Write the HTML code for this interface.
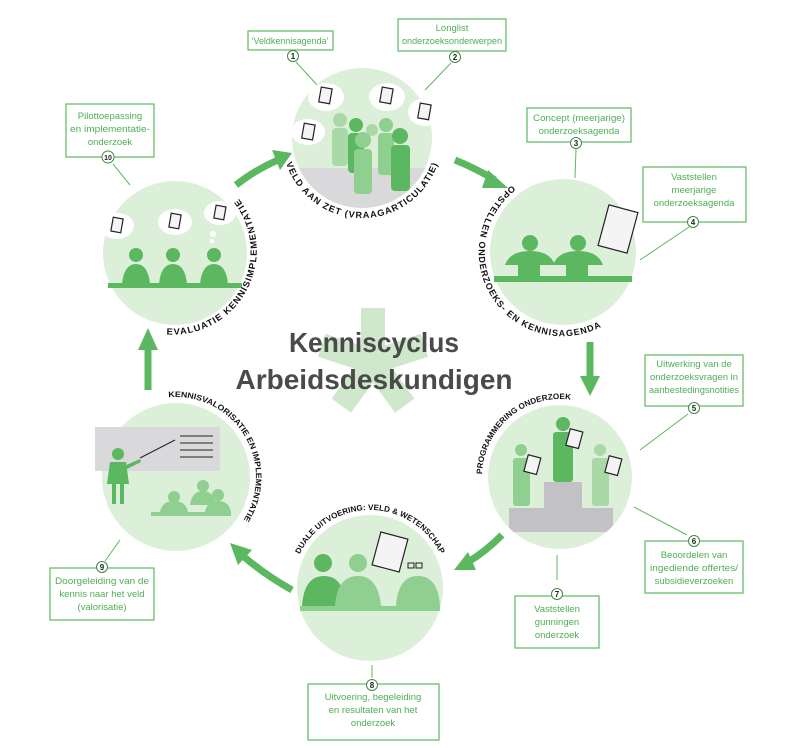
<!DOCTYPE html>
<html><head><meta charset="utf-8"><style>
html,body{margin:0;padding:0;background:#fff;}
svg{display:block;}
.bx{fill:#fff;stroke:#5cb860;stroke-width:1.2;}
.bt{font-family:"Liberation Sans",sans-serif;font-size:9.5px;fill:#4fae55;text-anchor:middle;}
.nc{fill:#fff;stroke:#3c8c40;stroke-width:1;}
.nt{font-family:"Liberation Sans",sans-serif;font-size:8px;font-weight:bold;fill:#222;text-anchor:middle;}
.ln{stroke:#5cb860;stroke-width:1;fill:none;}
.arc{font-family:"Liberation Sans",sans-serif;font-size:9px;font-weight:bold;fill:#111;letter-spacing:1px;}
.cir{fill:#dcefd9;}
.ar{stroke:#5cb860;stroke-width:7;fill:none;}
.ah{fill:#5cb860;}
.g1{fill:#5cb860;} .g2{fill:#8fcf8f;} .g3{fill:#a9d9a7;}
.doc{fill:#f4f4f4;stroke:#222;stroke-width:1.2;}
.bub{fill:#fff;}
</style></head><body>
<svg width="801" height="748" viewBox="0 0 801 748" xmlns="http://www.w3.org/2000/svg">
<defs>
<path id="p1" d="M283.2 151.9 A80 80 0 0 0 440.8 151.9"/>
<path id="p2" d="M160.8 333.8 A84 84 0 0 0 234.4 193.6"/>
<path id="p3" d="M521 179.3 A84 84 0 1 0 611.2 320.8"/>
<path id="p4" d="M482 477 A78 78 0 0 1 573.5 400.2"/>
<path id="p5" d="M298.2 557.5 A78 78 0 0 1 441.8 557.5"/>
<path id="p6" d="M164.9 397.8 A80 80 0 0 1 241.5 522.9"/>
</defs>

<g fill="#cfe8cc" transform="translate(373,362)">
<rect x="-12" y="-54" width="24" height="54"/>
<rect x="-12" y="-54" width="24" height="54" transform="rotate(72)"/>
<rect x="-12" y="-54" width="24" height="54" transform="rotate(144)"/>
<rect x="-12" y="-54" width="24" height="54" transform="rotate(216)"/>
<rect x="-12" y="-54" width="24" height="54" transform="rotate(288)"/>
</g>
<text x="374" y="352" font-family="Liberation Sans,sans-serif" font-weight="bold" font-size="28" fill="#4a4a4a" text-anchor="middle" textLength="170" lengthAdjust="spacingAndGlyphs">Kenniscyclus</text>
<text x="374" y="389" font-family="Liberation Sans,sans-serif" font-weight="bold" font-size="28" fill="#4a4a4a" text-anchor="middle" textLength="277" lengthAdjust="spacingAndGlyphs">Arbeidsdeskundigen</text>

<line class="ln" x1="296" y1="62" x2="318" y2="86"/>
<line class="ln" x1="451" y1="63" x2="425" y2="90"/>
<line class="ln" x1="576" y1="149" x2="575" y2="178"/>
<line class="ln" x1="689" y1="227" x2="640" y2="260"/>
<line class="ln" x1="688" y1="414" x2="640" y2="450"/>
<line class="ln" x1="687" y1="535" x2="634" y2="507"/>
<line class="ln" x1="557" y1="555" x2="557" y2="580"/>
<line class="ln" x1="372" y1="665" x2="372" y2="678"/>
<line class="ln" x1="105" y1="561" x2="120" y2="540"/>
<line class="ln" x1="113" y1="164" x2="130" y2="185"/>

<circle class="cir" cx="362" cy="138" r="70"/>
<circle class="cir" cx="175" cy="253" r="72"/>
<circle class="cir" cx="563" cy="252" r="73"/>
<circle class="cir" cx="560" cy="477" r="72"/>
<circle class="cir" cx="370" cy="588" r="73"/>
<circle class="cir" cx="176" cy="477" r="74"/>

<clipPath id="c1"><circle cx="362" cy="138" r="70"/></clipPath>
<rect x="292" y="168" width="140" height="40" fill="#d9d9dc" clip-path="url(#c1)"/>
<g>
<circle class="g3" cx="340" cy="120" r="7"/><rect class="g3" x="332" y="128" width="16" height="38" rx="4"/>
<circle class="g1" cx="356" cy="125" r="7"/><rect class="g1" x="348" y="133" width="16" height="40" rx="4"/>
<circle class="g3" cx="372" cy="130" r="6"/>
<circle class="g2" cx="386" cy="125" r="7"/><rect class="g2" x="378" y="133" width="16" height="42" rx="4"/>
<circle class="g2" cx="363" cy="140" r="8"/><rect class="g2" x="354" y="149" width="18" height="45" rx="4"/>
<circle class="g1" cx="400" cy="136" r="8"/><rect class="g1" x="391" y="145" width="19" height="46" rx="4"/>
<ellipse class="bub" cx="326" cy="97" rx="18" ry="14"/><rect class="doc" x="320" y="88" width="11" height="15" transform="rotate(10 326 95)"/>
<ellipse class="bub" cx="387" cy="97" rx="18" ry="14"/><rect class="doc" x="381" y="88" width="11" height="15" transform="rotate(10 387 95)"/>
<ellipse class="bub" cx="425" cy="112" rx="17" ry="14"/><rect class="doc" x="419" y="104" width="11" height="15" transform="rotate(10 425 111)"/>
<ellipse class="bub" cx="308" cy="132" rx="17" ry="13"/><rect class="doc" x="303" y="124" width="11" height="15" transform="rotate(10 308 131)"/>
</g>

<g>
<circle class="g1" cx="136" cy="255" r="7"/><path class="g1" d="M122 284 q2 -20 14 -20 q12 0 14 20z"/>
<circle class="g1" cx="173" cy="255" r="7"/><path class="g1" d="M159 284 q2 -20 14 -20 q12 0 14 20z"/>
<circle class="g1" cx="214" cy="255" r="7"/><path class="g1" d="M200 284 q2 -20 14 -20 q12 0 14 20z"/>
<rect class="g1" x="108" y="283" width="134" height="5"/>
<ellipse class="bub" cx="117" cy="226" rx="17" ry="13"/><rect class="doc" x="112" y="218" width="10" height="14" transform="rotate(10 117 225)"/>
<ellipse class="bub" cx="175" cy="222" rx="17" ry="13"/><rect class="doc" x="170" y="214" width="10" height="14" transform="rotate(10 175 221)"/>
<ellipse class="bub" cx="220" cy="213" rx="16" ry="12"/><rect class="doc" x="215" y="206" width="10" height="13" transform="rotate(10 220 212)"/>
<circle class="bub" cx="213" cy="234" r="3"/><circle class="bub" cx="212" cy="241" r="2"/>
</g>

<g>
<circle class="g1" cx="530" cy="243" r="8"/><path class="g1" d="M505 265 q5 -14 25 -14 q20 0 25 14z"/>
<circle class="g1" cx="578" cy="243" r="8"/><path class="g1" d="M553 265 q5 -14 25 -14 q20 0 25 14z"/>
<rect class="g1" x="494" y="276" width="138" height="6"/>
<rect class="g1" x="518" y="262" width="22" height="15"/><rect class="g1" x="566" y="262" width="22" height="15"/>
<rect class="doc" x="603" y="208" width="30" height="42" transform="rotate(15 618 229)"/>
</g>

<clipPath id="c4"><circle cx="560" cy="477" r="72"/></clipPath>
<rect x="509" y="508" width="104" height="24" fill="#c2c2c6" clip-path="url(#c4)"/>
<rect x="544" y="482" width="38" height="26" fill="#c2c2c6"/>
<circle class="g2" cx="521" cy="450" r="6"/><rect class="g2" x="513" y="458" width="17" height="48" rx="3"/>
<circle class="g1" cx="563" cy="424" r="7"/><rect class="g1" x="553" y="432" width="20" height="50" rx="3"/>
<circle class="g3" cx="600" cy="450" r="6"/><rect class="g3" x="592" y="458" width="17" height="48" rx="3"/>
<rect class="doc" x="526" y="456" width="13" height="17" transform="rotate(15 532 464)"/>
<rect class="doc" x="568" y="430" width="13" height="17" transform="rotate(15 574 438)"/>
<rect class="doc" x="607" y="457" width="13" height="17" transform="rotate(15 613 465)"/>

<g>
<circle class="g1" cx="323" cy="563" r="9"/><path class="g1" d="M302 606 q2 -30 22 -30 q20 0 22 30z"/>
<circle class="g2" cx="358" cy="563" r="9"/><path class="g2" d="M335 606 q2 -30 23 -30 q20 0 23 30z"/>
<path class="g2" d="M396 606 q2 -30 22 -30 q20 0 22 30z"/>
<rect class="g2" x="300" y="606" width="140" height="5"/>
<rect class="doc" x="376" y="535" width="28" height="34" transform="rotate(15 390 552)"/>
<rect x="408" y="563" width="6" height="5" fill="none" stroke="#222"/><rect x="416" y="563" width="6" height="5" fill="none" stroke="#222"/>
</g>

<rect x="95" y="427" width="125" height="44" fill="#d9d9dc"/>
<g stroke="#222" stroke-width="1"><line x1="180" y1="436" x2="213" y2="436"/><line x1="180" y1="443" x2="213" y2="443"/><line x1="180" y1="450" x2="213" y2="450"/><line x1="180" y1="457" x2="213" y2="457"/>
<line x1="140" y1="458" x2="175" y2="440"/></g>
<circle class="g1" cx="118" cy="454" r="6"/><path class="g1" d="M110 462 h16 l3 22 h-22z"/><rect class="g1" x="112" y="484" width="4" height="20"/><rect class="g1" x="120" y="484" width="4" height="20"/>
<path class="g1" d="M124 466 l16 -7 l1 3 l-16 8z"/>
<circle class="g2" cx="203" cy="486" r="6"/><path class="g2" d="M190 505 q2 -14 13 -14 q11 0 13 14z"/>
<circle class="g2" cx="174" cy="497" r="6"/><path class="g2" d="M160 512 q2 -11 14 -11 q12 0 14 11z"/>
<circle class="g2" cx="218" cy="495" r="6"/><path class="g2" d="M205 512 q2 -11 13 -11 q11 0 13 11z"/>
<rect class="g2" x="151" y="512" width="80" height="4"/>

<text class="arc"><textPath href="#p1" startOffset="50%" text-anchor="middle" textLength="200" lengthAdjust="spacingAndGlyphs">VELD AAN ZET (VRAAGARTICULATIE)</textPath></text>
<text class="arc"><textPath href="#p2" startOffset="50%" text-anchor="middle" textLength="195" lengthAdjust="spacingAndGlyphs">EVALUATIE KENNISIMPLEMENTATIE</textPath></text>
<text class="arc"><textPath href="#p3" startOffset="50%" text-anchor="middle" textLength="250" lengthAdjust="spacingAndGlyphs">OPSTELLEN ONDERZOEKS- EN KENNISAGENDA</textPath></text>
<text class="arc" style="letter-spacing:0;font-size:8px"><textPath href="#p4" startOffset="50%" text-anchor="middle" textLength="130" lengthAdjust="spacingAndGlyphs">PROGRAMMERING ONDERZOEK</textPath></text>
<text class="arc" style="letter-spacing:0;font-size:8px"><textPath href="#p5" startOffset="50%" text-anchor="middle" textLength="175" lengthAdjust="spacingAndGlyphs">DUALE UITVOERING: VELD &amp; WETENSCHAP</textPath></text>
<text class="arc" style="letter-spacing:0;font-size:8px"><textPath href="#p6" startOffset="50%" text-anchor="middle" textLength="178" lengthAdjust="spacingAndGlyphs">KENNISVALORISATIE EN IMPLEMENTATIE</textPath></text>

<path class="ar" d="M236 185 Q255 170 278 160"/><polygon class="ah" points="292,153 272,150 280,170"/>
<path class="ar" d="M455 160 Q475 168 495 180"/><polygon class="ah" points="508,188 488,170 482,188"/>
<path class="ar" d="M590 342 L590 380"/><polygon class="ah" points="590,396 580,376 600,376"/>
<path class="ar" d="M502 535 Q485 552 468 562"/><polygon class="ah" points="454,570 468,552 476,570"/>
<path class="ar" d="M292 590 Q265 575 243 556"/><polygon class="ah" points="230,543 252,550 238,565"/>
<path class="ar" d="M148 390 L148 345"/><polygon class="ah" points="148,328 138,350 158,350"/>

<rect class="bx" x="248" y="31" width="85" height="19"/>
<text class="bt" x="290" y="44" textLength="77" lengthAdjust="spacingAndGlyphs">‘Veldkennisagenda’</text>
<circle class="nc" cx="293" cy="56" r="5.5"/><text class="nt" x="293" y="59">1</text>

<rect class="bx" x="398" y="19" width="108" height="32"/>
<text class="bt" x="452" y="31">Longlist</text><text class="bt" x="452" y="44" textLength="100" lengthAdjust="spacingAndGlyphs">onderzoeksonderwerpen</text>
<circle class="nc" cx="455" cy="57" r="5.5"/><text class="nt" x="455" y="60">2</text>

<rect class="bx" x="527" y="108" width="104" height="34"/>
<text class="bt" x="579" y="121" textLength="92" lengthAdjust="spacingAndGlyphs">Concept (meerjarige)</text><text class="bt" x="579" y="134">onderzoeksagenda</text>
<circle class="nc" cx="576" cy="143" r="5.5"/><text class="nt" x="576" y="146">3</text>

<rect class="bx" x="643" y="167" width="103" height="55"/>
<text class="bt" x="694" y="180">Vaststellen</text><text class="bt" x="694" y="193">meerjarige</text><text class="bt" x="694" y="206">onderzoeksagenda</text>
<circle class="nc" cx="693" cy="222" r="5.5"/><text class="nt" x="693" y="225">4</text>

<rect class="bx" x="645" y="355" width="98" height="51"/>
<text class="bt" x="694" y="367">Uitwerking van de</text><text class="bt" x="694" y="380" textLength="88" lengthAdjust="spacingAndGlyphs">onderzoeksvragen in</text><text class="bt" x="694" y="393" textLength="90" lengthAdjust="spacingAndGlyphs">aanbestedingsnotities</text>
<circle class="nc" cx="694" cy="408" r="5.5"/><text class="nt" x="694" y="411">5</text>

<rect class="bx" x="645" y="541" width="98" height="52"/>
<text class="bt" x="694" y="558">Beoordelen van</text><text class="bt" x="694" y="571" textLength="88" lengthAdjust="spacingAndGlyphs">ingediende offertes/</text><text class="bt" x="694" y="584">subsidieverzoeken</text>
<circle class="nc" cx="694" cy="541" r="5.5"/><text class="nt" x="694" y="544">6</text>

<rect class="bx" x="515" y="596" width="84" height="52"/>
<text class="bt" x="557" y="612">Vaststellen</text><text class="bt" x="557" y="625">gunningen</text><text class="bt" x="557" y="638">onderzoek</text>
<circle class="nc" cx="557" cy="594" r="5.5"/><text class="nt" x="557" y="597">7</text>

<rect class="bx" x="308" y="684" width="131" height="56"/>
<text class="bt" x="373" y="700">Uitvoering, begeleiding</text><text class="bt" x="373" y="713">en resultaten van het</text><text class="bt" x="373" y="726">onderzoek</text>
<circle class="nc" cx="372" cy="685" r="5.5"/><text class="nt" x="372" y="688">8</text>

<rect class="bx" x="50" y="568" width="104" height="52"/>
<text class="bt" x="102" y="584" textLength="94" lengthAdjust="spacingAndGlyphs">Doorgeleiding van de</text><text class="bt" x="102" y="597">kennis naar het veld</text><text class="bt" x="102" y="610">(valorisatie)</text>
<circle class="nc" cx="102" cy="567" r="5.5"/><text class="nt" x="102" y="570">9</text>

<rect class="bx" x="66" y="104" width="88" height="53"/>
<text class="bt" x="110" y="119">Pilottoepassing</text><text class="bt" x="110" y="132" textLength="80" lengthAdjust="spacingAndGlyphs">en implementatie-</text><text class="bt" x="110" y="145">onderzoek</text>
<circle class="nc" cx="108" cy="157" r="6"/><text class="nt" x="108" y="160" style="font-size:7px">10</text>
</svg>
</body></html>
